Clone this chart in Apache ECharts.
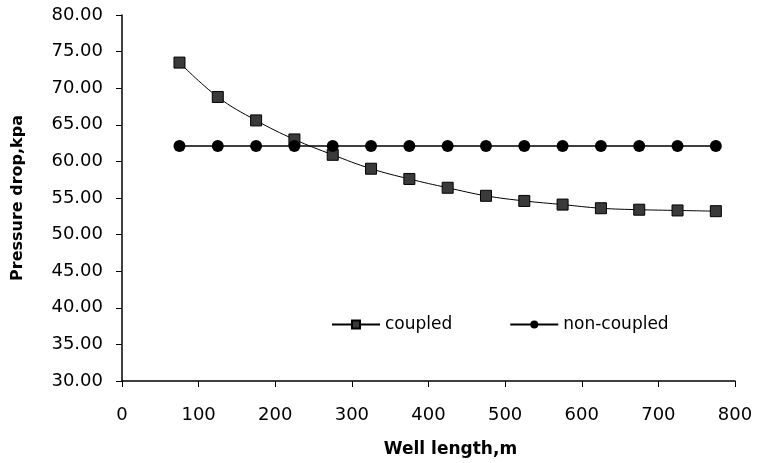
<!DOCTYPE html>
<html><head><meta charset="utf-8">
<script src="https://cdn.jsdelivr.net/npm/echarts@6/dist/echarts.min.js"></script>
<style>html,body{margin:0;padding:0;background:#fff}#c{width:769px;height:463px}</style>
</head><body><div id="c"></div>
<script>
var wellLength = [75,125,175,225,275,325,375,425,475,525,575,625,675,725,775];
var coupled = [73.5,68.8,65.6,63.0,60.9,59.0,57.6,56.4,55.3,54.6,54.1,53.6,53.4,53.3,53.2];
var nonCoupled = [62.1,62.1,62.1,62.1,62.1,62.1,62.1,62.1,62.1,62.1,62.1,62.1,62.1,62.1,62.1];
var seriesNames = ['coupled','non-coupled'];

function pairs(xs, ys){ return xs.map(function(x,i){return [x, ys[i]];}); }
var font = 'DejaVu Sans, sans-serif';
var chart = echarts.init(document.getElementById('c'));
chart.setOption({
  animation:false,
  backgroundColor:'#fff',
  grid:{left:122,right:34,top:15,bottom:79},
  legend:{
    left:326, top:311, itemWidth:48, itemHeight:10, itemGap:57,
    textStyle:{fontFamily:font,fontSize:17,color:'#000'},
    data:seriesNames
  },
  xAxis:{
    type:'value', min:0, max:800, interval:100,
    name:'Well length,m', nameLocation:'middle', nameGap:60,
    nameTextStyle:{fontFamily:font,fontSize:17,fontWeight:'bold',color:'#000',padding:[0,0,0,44]},
    axisLine:{show:true,lineStyle:{color:'#000',width:1.5}},
    axisTick:{show:true,length:6,lineStyle:{color:'#000'}},
    axisLabel:{fontFamily:font,fontSize:18,color:'#000',margin:25},
    splitLine:{show:false}
  },
  yAxis:{
    type:'value', min:30, max:80, interval:5,
    name:'Pressure drop,kpa', nameLocation:'middle', nameGap:96,
    nameTextStyle:{fontFamily:font,fontSize:16,fontWeight:'bold',color:'#000'},
    axisLine:{show:true,lineStyle:{color:'#000',width:1.5}},
    axisTick:{show:true,length:6,lineStyle:{color:'#000'}},
    axisLabel:{fontFamily:font,fontSize:18,color:'#000',margin:19,formatter:function(v){return v.toFixed(2);}},
    splitLine:{show:false}
  },
  series:[
    {name:seriesNames[0],type:'line',smooth:0.4,data:pairs(wellLength,coupled),
     symbol:'rect',symbolSize:11,
     itemStyle:{color:'#3a3a3a',borderColor:'#000',borderWidth:1},
     lineStyle:{color:'#000',width:1}},
    {name:seriesNames[1],type:'line',data:pairs(wellLength,nonCoupled),
     symbol:'circle',symbolSize:12,
     itemStyle:{color:'#000'},
     lineStyle:{color:'#000',width:1.5}}
  ]
});
</script></body></html>
